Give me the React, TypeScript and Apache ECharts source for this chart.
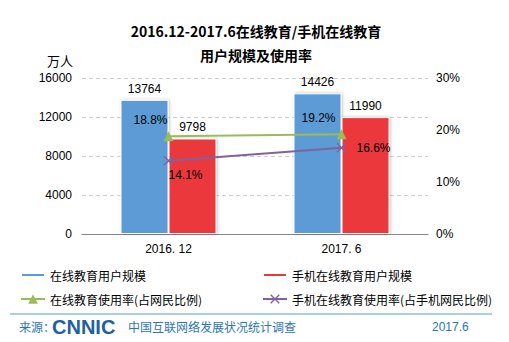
import React, { useEffect, useRef } from "react";
import * as echarts from "echarts";

const categories = ["2016. 12", "2017. 6"];
const onlineUsers = [13764, 14426];
const mobileUsers = [9798, 11990];
const onlineRate = [18.8, 19.2];
const mobileRate = [14.1, 16.6];
const leftTicks = [0, 4000, 8000, 12000, 16000];
const rightTicks = [0, 10, 20, 30];
const seriesNames = [
  "在线教育用户规模",
  "手机在线教育用户规模",
  "在线教育使用率(占网民比例)",
  "手机在线教育使用率(占手机网民比例)",
];

const FONT = "'Liberation Sans', 'Noto Sans CJK SC', sans-serif";
const CJK = "'Noto Sans CJK SC', 'Liberation Sans', sans-serif";
const X_SYMBOL = "path://M0,1L1,0L5,4L9,0L10,1L6,5L10,9L9,10L5,6L1,10L0,9L4,5Z";

export default function App() {
  const ref = useRef<HTMLDivElement>(null);
  useEffect(() => {
    document.body.style.margin = "0";
    const chart = echarts.init(ref.current!, undefined, { renderer: "svg" });

    const legendBase = {
      itemWidth: 24,
      textStyle: { color: "#000", fontSize: 12, fontFamily: CJK },
      itemGap: 0,
    };

    chart.setOption({
      animation: false,
      backgroundColor: "#fff",
      textStyle: { fontFamily: FONT },
      title: {
        text: "2016.12-2017.6在线教育/手机在线教育\n用户规模及使用率",
        left: 251,
        textAlign: "center",
        top: 14,
        textStyle: {
          fontFamily: CJK,
          fontSize: 14,
          fontWeight: "bold",
          color: "#000",
          lineHeight: 24,
        },
      },
      grid: { left: 82, right: 81, top: 78, bottom: 108 },
      legend: [
        { ...legendBase, data: [seriesNames[0]], left: 15, top: 264, itemHeight: 4, icon: "rect" },
        { ...legendBase, data: [seriesNames[1]], left: 257, top: 264, itemHeight: 4, icon: "rect" },
        { ...legendBase, data: [seriesNames[2]], left: 15, top: 288, itemHeight: 12 },
        { ...legendBase, data: [seriesNames[3]], left: 257, top: 288, itemHeight: 12 },
      ],
      xAxis: {
        type: "category",
        data: categories,
        axisLine: { lineStyle: { color: "#888" } },
        axisTick: { lineStyle: { color: "#888" }, length: 4 },
        axisLabel: { color: "#000", fontSize: 12, margin: 9, fontFamily: FONT },
      },
      yAxis: [
        {
          type: "value",
          min: leftTicks[0],
          max: leftTicks[leftTicks.length - 1],
          interval: 4000,
          axisLine: { show: false },
          axisTick: { show: false },
          axisLabel: {
            color: "#000",
            fontSize: 12,
            margin: 10,
            fontFamily: FONT,
            formatter: (v: number) => String(v),
          },
          splitLine: { lineStyle: { color: "#d0d0d0", type: [4, 3] } },
        },
        {
          type: "value",
          min: rightTicks[0],
          max: rightTicks[rightTicks.length - 1],
          interval: 10,
          axisLine: { show: false },
          axisTick: { show: false },
          axisLabel: { color: "#000", fontSize: 12, margin: 8, formatter: "{value}%", fontFamily: FONT },
          splitLine: { show: false },
        },
      ],
      graphic: [
        {
          type: "text",
          x: 47,
          y: 54,
          style: { text: "万人", fill: "#000", font: "13px 'Noto Sans CJK SC'" },
        },
        {
          type: "line",
          shape: { x1: 10, y1: 314, x2: 492, y2: 314 },
          style: { stroke: "#5b9bd5", lineWidth: 1 },
        },
        {
          type: "text",
          x: 19,
          y: 320,
          style: { text: "来源：", fill: "#2e75b6", font: "12px 'Noto Sans CJK SC'" },
        },
        {
          type: "text",
          x: 52,
          y: 317,
          style: { text: "CNNIC", fill: "#1f5fa8", font: "900 20px 'Liberation Sans', sans-serif" },
        },
        {
          type: "text",
          x: 128,
          y: 320,
          style: { text: "中国互联网络发展状况统计调查", fill: "#2e75b6", font: "12px 'Noto Sans CJK SC'" },
        },
        {
          type: "text",
          x: 432,
          y: 321,
          style: { text: "2017.6", fill: "#2e75b6", font: "12px 'Liberation Sans'" },
        },
      ],
      series: [
        {
          name: seriesNames[0],
          type: "bar",
          data: onlineUsers,
          barWidth: 48,
          barGap: "0%",
          itemStyle: {
            color: "#5b9bd5",
            borderColor: "#fff",
            borderWidth: 1,
            shadowColor: "rgba(0,0,0,0.25)",
            shadowBlur: 3,
            shadowOffsetX: 1,
          },
          label: { show: true, position: "top", color: "#000", fontSize: 12, distance: 5 },
        },
        {
          name: seriesNames[1],
          type: "bar",
          data: mobileUsers,
          barWidth: 48,
          itemStyle: {
            color: "#ea383c",
            borderColor: "#fff",
            borderWidth: 1,
            shadowColor: "rgba(0,0,0,0.25)",
            shadowBlur: 3,
            shadowOffsetX: 1,
          },
          label: { show: true, position: "top", color: "#000", fontSize: 12, distance: 5 },
        },
        {
          name: seriesNames[2],
          type: "line",
          yAxisIndex: 1,
          data: [
            { value: onlineRate[0], label: { position: "top", offset: [-18, 0] } },
            { value: onlineRate[1], label: { position: "top", offset: [-23, 0] } },
          ],
          symbol: "triangle",
          symbolSize: 10,
          lineStyle: { color: "#9bbb59", width: 2 },
          itemStyle: { color: "#9bbb59" },
          label: { show: true, color: "#000", fontSize: 12, formatter: "{c}%" },
          z: 5,
        },
        {
          name: seriesNames[3],
          type: "line",
          yAxisIndex: 1,
          data: [
            { value: mobileRate[0], label: { position: "bottom", offset: [17, -2] } },
            { value: mobileRate[1], label: { position: "right", distance: 10 } },
          ],
          symbol: X_SYMBOL,
          symbolSize: 10,
          lineStyle: { color: "#7f63a1", width: 2 },
          itemStyle: { color: "#7f63a1" },
          label: { show: true, color: "#000", fontSize: 12, formatter: "{c}%" },
          z: 5,
        },
      ],
    });
    return () => chart.dispose();
  }, []);
  return <div ref={ref} style={{ width: 509, height: 342 }} />;
}
